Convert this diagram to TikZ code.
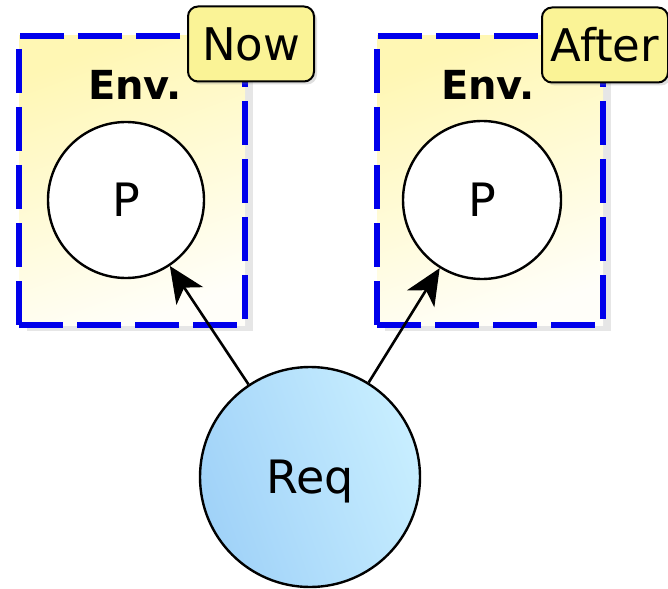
\documentclass[tikz,border=0pt]{standalone}
\usepackage{fontspec}
\setmainfont{DejaVu Sans}
\usepackage{tikz}
\usetikzlibrary{arrows.meta}
\usetikzlibrary{shadows}
\definecolor{envfill}{RGB}{255,247,180}
\definecolor{envblue}{RGB}{0,0,235}
\definecolor{tagfill}{RGB}{250,243,150}
\definecolor{reqdark}{RGB}{160,210,248}
\definecolor{reqlight}{RGB}{200,238,255}

\tikzset{
  envbox/.style={rectangle,draw=envblue,line width=3pt,dash pattern=on 22pt off 7pt,
    minimum width=113pt,minimum height=144.5pt,
    top color=envfill,bottom color=envfill!8,shading angle=20,
    drop shadow={shadow xshift=4pt,shadow yshift=-3pt,opacity=0.2}},
  envlabel/.style={font=\fontsize{20}{22}\selectfont\bfseries,anchor=base},
  tag/.style={rectangle,draw,line width=1pt,rounded corners=5pt,fill=tagfill,
    minimum width=63pt,minimum height=37.5pt,inner sep=0pt,
    font=\fontsize{22.5}{26}\selectfont,
    drop shadow={shadow xshift=1.5pt,shadow yshift=-1.5pt,opacity=0.25}},
  pnode/.style={circle,draw,line width=1.2pt,fill=white,minimum size=78pt,
    font=\fontsize{23}{26}\selectfont},
  reqnode/.style={circle,draw,line width=1.2pt,minimum size=110pt,
    left color=reqdark,right color=reqlight,shading angle=110,text depth=0pt,
    font=\fontsize{23}{26}\selectfont}
}

\begin{document}
\begin{tikzpicture}[x=0.5pt,y=-0.5pt]
\useasboundingbox (0,0) rectangle (668,588);

\node[envbox] (envnow) at (132,180.5) {};
\node[envbox] (envafter) at (490,180.5) {};
\node[envlabel] (envnowlbl) at (135,100) {Env.};
\node[envlabel] (envafterlbl) at (488,100) {Env.};
\node[tag] (now) at (251,44) {Now};
\node[tag] (after) at (605,45) {After};

\node[pnode] (pnow) at (126,200) {P};
\node[pnode,minimum size=79pt] (pafter) at (482,200) {P};
\node[reqnode] (req) at (310,477) {Req};

\path[-{Stealth[length=18pt,width=16pt,inset=5pt]},line width=1.3pt]
  (req) edge (pnow)
  (req) edge (pafter);
\end{tikzpicture}
\end{document}
